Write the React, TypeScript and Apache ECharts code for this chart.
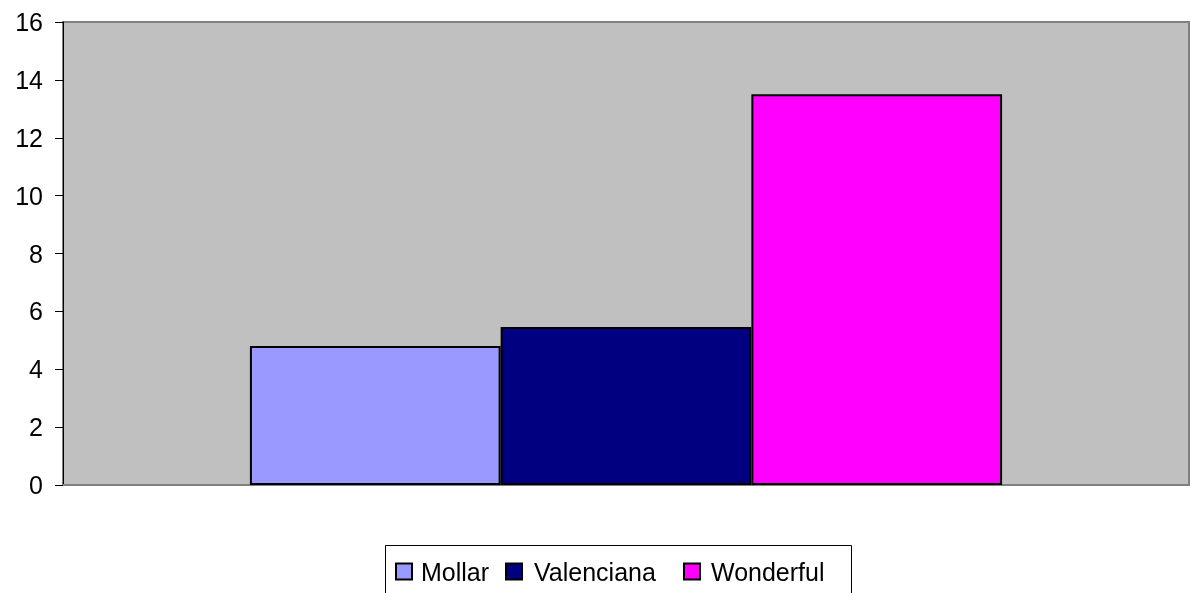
import React, { useEffect, useRef } from "react";
import * as echarts from "echarts";

const categories = [""];
const seriesNames = ["Mollar", "Valenciana", "Wonderful"];
const seriesValues = [[4.8], [5.46], [13.5]];
const seriesColors = ["#9999FF", "#000080", "#FF00FF"];
const yTicks = { min: 0, max: 16, interval: 2 };
const legendIconLefts = [395, 505, 683];
const legendTextPads = [4, 7, 6];

const FONT = "Liberation Sans, Arial, sans-serif";

export default function App() {
  const ref = useRef<HTMLDivElement>(null);
  useEffect(() => {
    if (!ref.current) return;
    const chart = echarts.init(ref.current, undefined, { renderer: "svg" });
    chart.setOption({
      animation: false,
      textStyle: { fontFamily: FONT },
      grid: {
        left: 63,
        right: 2,
        top: 22,
        bottom: 108,
        show: true,
        backgroundColor: "#C0C0C0",
        borderColor: "#808080",
        borderWidth: 2,
      },
      graphic: [
        {
          type: "rect",
          left: 385,
          top: 545,
          shape: { width: 466, height: 70 },
          style: { fill: "#FFFFFF", stroke: "#000000", lineWidth: 1 },
          z: -1,
          silent: true,
        },
      ],
      legend: seriesNames.map((name, i) => ({
        left: legendIconLefts[i],
        top: 559,
        padding: 0,
        itemGap: 0,
        itemWidth: 16,
        itemHeight: 16,
        icon: "rect",
        textStyle: {
          fontSize: 25,
          lineHeight: 16,
          color: "#000000",
          fontFamily: FONT,
          padding: [0, 0, 0, legendTextPads[i]],
        },
        data: [name],
      })),
      xAxis: {
        type: "category",
        data: categories,
        axisLine: { show: true, lineStyle: { color: "#808080", width: 2 } },
        axisTick: { show: false },
        axisLabel: { show: false },
      },
      yAxis: {
        type: "value",
        min: yTicks.min,
        max: yTicks.max,
        interval: yTicks.interval,
        axisLine: { show: true, lineStyle: { color: "#000000", width: 1 } },
        axisTick: { show: true, length: 8, lineStyle: { color: "#000000" } },
        axisLabel: {
          fontSize: 25,
          color: "#000000",
          margin: 20,
          fontFamily: FONT,
        },
        splitLine: { show: false },
      },
      series: seriesNames.map((name, i) => ({
        name,
        type: "bar",
        data: seriesValues[i],
        barGap: "0%",
        barCategoryGap: "33.2%",
        itemStyle: {
          color: seriesColors[i],
          borderColor: "#000000",
          borderWidth: 2,
        },
      })),
    });
    return () => chart.dispose();
  }, []);
  return (
    <div
      ref={ref}
      style={{ position: "fixed", left: 0, top: 0, width: 1191, height: 593 }}
    />
  );
}
